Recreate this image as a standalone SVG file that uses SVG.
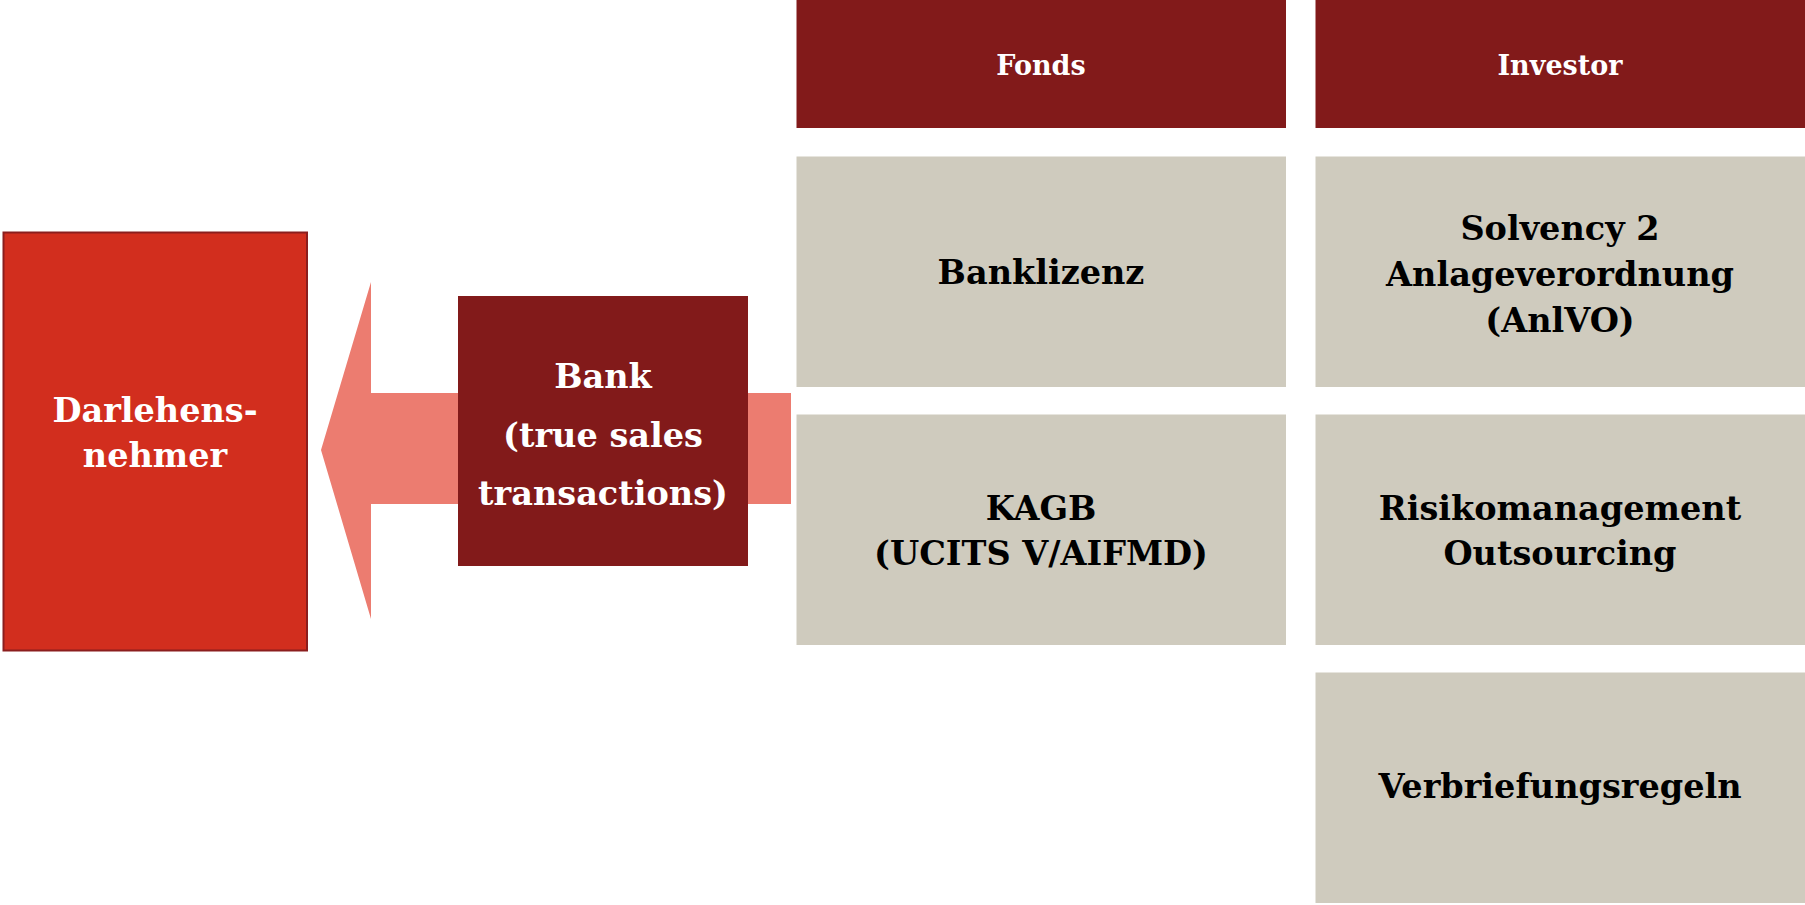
<svg xmlns="http://www.w3.org/2000/svg" width="1805" height="905" viewBox="0 0 1805 905">
<style>
.t{font-family:"DejaVu Serif","Liberation Serif",serif;font-weight:bold;text-anchor:middle}
.w{fill:#ffffff}
.k{fill:#000000}
.big{font-size:33.5px}
.hd{font-size:27px}
.hdr{fill:#821A1A}
.gray{fill:#CFCBBE}
</style>
<rect width="1805" height="905" fill="#ffffff"/>
<g id="connectors">
<polygon points="321,450 371,282 371,393 791,393 791,504 371,504 371,619" fill="#EC7C70"/>
</g>
<g id="darlehensnehmer">
<rect x="3.5" y="232.5" width="303.5" height="418" fill="#D22E1E" stroke="#8B1E1E" stroke-width="2"/>
<text class="t w big" x="155" y="422">Darlehens-</text>
<text class="t w big" x="155" y="467">nehmer</text>
</g>
<g id="bank">
<rect x="458" y="296" width="290" height="270" fill="#821A1A"/>
<text class="t w big" x="603" y="388">Bank</text>
<text class="t w big" x="603" y="447">(true sales</text>
<text class="t w big" x="603" y="505">transactions)</text>
</g>
<g id="fonds">
<rect class="hdr" x="796.5" y="0" width="489.5" height="128"/>
<text class="t w hd" x="1041" y="75">Fonds</text>
</g>
<g id="investor">
<rect class="hdr" x="1315.5" y="0" width="489.5" height="128"/>
<text class="t w hd" x="1560" y="75">Investor</text>
</g>
<g id="banklizenz">
<rect class="gray" x="796.5" y="156.5" width="489.5" height="230.5"/>
<text class="t k big" x="1041" y="284">Banklizenz</text>
</g>
<g id="kagb">
<rect class="gray" x="796.5" y="414.5" width="489.5" height="230.5"/>
<text class="t k big" x="1041" y="520">KAGB</text>
<text class="t k big" x="1041" y="565">(UCITS V/AIFMD)</text>
</g>
<g id="solvency">
<rect class="gray" x="1315.5" y="156.5" width="489.5" height="230.5"/>
<text class="t k big" x="1560" y="240">Solvency 2</text>
<text class="t k big" x="1560" y="286">Anlageverordnung</text>
<text class="t k big" x="1560" y="332">(AnlVO)</text>
</g>
<g id="risiko">
<rect class="gray" x="1315.5" y="414.5" width="489.5" height="230.5"/>
<text class="t k big" x="1560" y="520">Risikomanagement</text>
<text class="t k big" x="1560" y="565">Outsourcing</text>
</g>
<g id="verbriefung">
<rect class="gray" x="1315.5" y="672.5" width="489.5" height="230.5"/>
<text class="t k big" x="1560" y="798">Verbriefungsregeln</text>
</g>
</svg>
